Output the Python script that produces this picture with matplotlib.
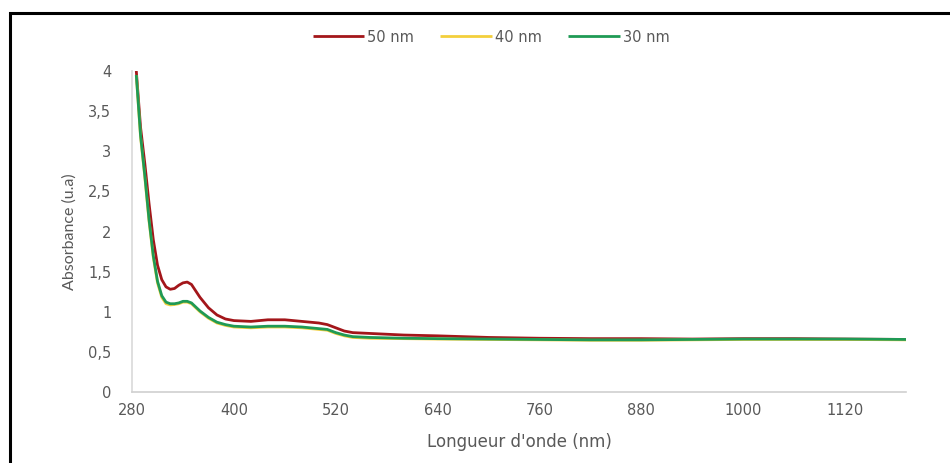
import matplotlib
matplotlib.use("Agg")
import matplotlib.pyplot as plt
from matplotlib.patches import Rectangle

plt.rcParams['font.family'] = ['DejaVu Sans']

# Wavelength (nm)
wavelength = [285, 290, 295, 300, 305, 310, 315, 320, 325, 330, 335, 340, 345,
              350, 355, 360, 370, 380, 390, 400, 420, 440, 460, 480, 500, 510,
              520, 530, 540, 560, 600, 640, 700, 760, 820, 880, 940, 1000,
              1060, 1120, 1192]

# Absorbance (u.a) for each film thickness
abs_50nm = [4.0, 3.3, 2.85, 2.35, 1.9, 1.58, 1.40, 1.31, 1.28, 1.29, 1.33, 1.36,
            1.37, 1.34, 1.26, 1.18, 1.05, 0.96, 0.91, 0.89, 0.88, 0.90, 0.90,
            0.88, 0.86, 0.84, 0.80, 0.76, 0.74, 0.73, 0.71, 0.70, 0.68, 0.67,
            0.665, 0.665, 0.66, 0.665, 0.665, 0.66, 0.655]
abs_40nm = [3.95, 3.18, 2.68, 2.13, 1.68, 1.36, 1.18, 1.10, 1.085, 1.09, 1.10,
            1.12, 1.12, 1.10, 1.05, 1.0, 0.92, 0.86, 0.83, 0.81, 0.80, 0.81,
            0.81, 0.80, 0.78, 0.77, 0.73, 0.70, 0.68, 0.67, 0.665, 0.66, 0.655,
            0.65, 0.645, 0.645, 0.65, 0.655, 0.655, 0.655, 0.65]
abs_30nm = [3.95, 3.2, 2.7, 2.15, 1.7, 1.38, 1.20, 1.12, 1.10, 1.10, 1.11, 1.13,
            1.13, 1.11, 1.06, 1.01, 0.93, 0.87, 0.84, 0.82, 0.81, 0.82, 0.82,
            0.81, 0.79, 0.78, 0.74, 0.71, 0.69, 0.68, 0.67, 0.665, 0.66, 0.655,
            0.65, 0.65, 0.655, 0.66, 0.66, 0.66, 0.655]

series_labels = ['50 nm', '40 nm', '30 nm']
series_colors = ['#a3161a', '#f3cf3c', '#1f9a55']

xticks = [280, 400, 520, 640, 760, 880, 1000, 1120]
yticks = [0, 0.5, 1, 1.5, 2, 2.5, 3, 3.5, 4]
ytick_labels = ['0', '0,5', '1', '1,5', '2', '2,5', '3', '3,5', '4']

text_color = '#595959'

fig = plt.figure(figsize=(9.5, 4.63), dpi=100)
ax = fig.add_axes([0.139, 0.1533, 0.815, 0.6934])

for y, lab, col in zip([abs_50nm, abs_40nm, abs_30nm], series_labels, series_colors):
    ax.plot(wavelength, y, color=col, lw=2.0, label=lab,
            solid_joinstyle='round', solid_capstyle='butt')

ax.set_xlim(280, 1192)
ax.set_ylim(0, 4)
ax.set_xticks(xticks)
ax.set_xticklabels([str(t) for t in xticks])
ax.set_yticks(yticks)
ax.set_yticklabels(ytick_labels)
ax.tick_params(length=0, labelsize=10.5, colors=text_color)
ax.tick_params(axis='x', pad=8)
ax.tick_params(axis='y', pad=15)

for s in ['top', 'right']:
    ax.spines[s].set_visible(False)
ax.spines['left'].set_color('#d9d9d9')
ax.spines['bottom'].set_color('#d0d0d0')
ax.spines['left'].set_linewidth(1.2)
ax.spines['bottom'].set_linewidth(1.2)

ax.set_xlabel("Longueur d'onde (nm)", fontsize=12, color=text_color, labelpad=11)
ax.set_ylabel("Absorbance (u.a)", fontsize=11.5, color=text_color, labelpad=8,
              family=['Lato', 'DejaVu Sans'])

leg = fig.legend(loc='center', bbox_to_anchor=(0.517, 1 - 37 / 463), ncol=3,
                 frameon=False, fontsize=10.5, handlelength=3.55,
                 handletextpad=0.2, columnspacing=1.8)
for t in leg.get_texts():
    t.set_color(text_color)
for h in leg.get_lines():
    h.set_linewidth(2.0)

# Outer frame
fig.patches.append(Rectangle((10 / 950, -0.2), 1.2, 1.2 - 13 / 463,
                             transform=fig.transFigure, fill=False,
                             edgecolor='black', linewidth=2.2))

fig.savefig('out.png', dpi=100)
